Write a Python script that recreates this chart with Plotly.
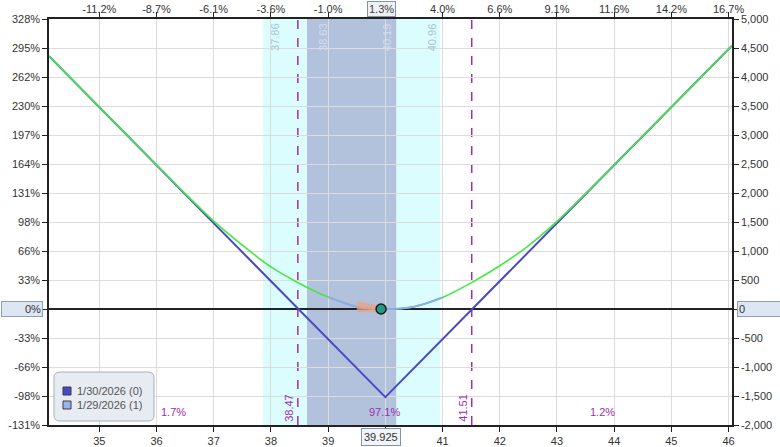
import plotly.graph_objects as go

# ---------------- data ----------------
x_range = [34.12, 46.06]
y_range = [-2000, 5000]

price_ticks = [35, 36, 37, 38, 39, 40, 41, 42, 43, 44, 45, 46]
price_tick_text = ["35", "36", "37", "38", "39", "", "41", "42", "43", "44", "45", "46"]
pct_tick_text = ["-11.2%", "-8.7%", "-6.1%", "-3.6%", "-1.0%", "", "4.0%", "6.6%",
                 "9.1%", "11.6%", "14.2%", "16.7%"]

pl_ticks = [-2000, -1500, -1000, -500, 0, 500, 1000, 1500, 2000, 2500, 3000, 3500, 4000, 4500, 5000]
pl_tick_text = ["-2,000", "-1,500", "-1,000", "-500", "", "500", "1,000", "1,500", "2,000",
                "2,500", "3,000", "3,500", "4,000", "4,500", "5,000"]
ret_tick_text = ["-131%", "-98%", "-66%", "-33%", "", "33%", "66%", "98%", "131%", "164%",
                 "197%", "230%", "262%", "295%", "328%"]

current_price = 39.925
current_price_label = "39.925"
current_pct_label = "1.3%"

# expiration P&L (1/30/2026)
exp_x = [34.12, 40.0, 46.06]
exp_y = [4360, -1520, 4540]

# T+1 P&L (1/29/2026)
t1_x = [34.12, 35.0, 36.0, 36.5, 37.0, 37.5, 38.0, 38.5, 39.0, 39.5, 40.0,
        40.5, 41.0, 41.5, 42.0, 42.5, 43.0, 43.5, 44.0, 45.0, 46.06]
t1_y = [4360, 3480, 2482, 1990, 1515, 1100, 725, 440, 205, 40, 0,
        40, 200, 450, 745, 1090, 1510, 1990, 2482, 3480, 4540]
t1_mid_lo, t1_mid_hi = 39.0, 41.0

# theta wedge near current price
wedge_x = [39.50, 39.93, 39.93, 39.50]
wedge_y = [130, 60, -60, -50]

# standard deviation bands and breakevens
sd1 = [38.63, 40.19]
sd2 = [37.86, 40.96]
breakevens = [38.47, 41.51]
breakeven_labels = ["38.47", "41.51"]
prob_x = [36.30, 39.99, 43.79]
prob_labels = ["1.7%", "97.1%", "1.2%"]

legend_names = ["1/30/2026 (0)", "1/29/2026 (1)"]

# ---------------- styling ----------------
FONT = "Liberation Sans, Arial, sans-serif"
TICK_COLOR = "#333333"
PURPLE = "#a02cb0"
EXP_COLOR = "#4a4ac4"
T1_COLOR = "#44e844"
T1_MID_COLOR = "#8eaaea"

W, H = 780, 447
L, R, T, B = 49, 48, 19, 22
PW, PH = W - L - R, H - T - B


def px_to_paper(px, py):
    return (px - L) / PW, (H - B - py) / PH


fig = go.Figure()

fig.add_trace(go.Scatter(x=exp_x, y=exp_y, mode="lines",
                         line=dict(color=EXP_COLOR, width=2), showlegend=False,
                         hoverinfo="skip"))
fig.add_trace(go.Scatter(x=t1_x, y=t1_y, mode="lines", line_shape="spline",
                         line=dict(color=T1_COLOR, width=1.6, smoothing=0.8), showlegend=False,
                         hoverinfo="skip"))
mid_x = [x for x in t1_x if t1_mid_lo <= x <= t1_mid_hi]
mid_y = [y for x, y in zip(t1_x, t1_y) if t1_mid_lo <= x <= t1_mid_hi]
fig.add_trace(go.Scatter(x=mid_x, y=mid_y, mode="lines", line_shape="spline",
                         line=dict(color=T1_MID_COLOR, width=2, smoothing=0.8), showlegend=False,
                         hoverinfo="skip"))
fig.add_trace(go.Scatter(x=wedge_x + [wedge_x[0]], y=wedge_y + [wedge_y[0]], mode="lines",
                         fill="toself", fillcolor="rgba(236,160,130,0.75)",
                         line=dict(width=0), showlegend=False, hoverinfo="skip"))
fig.add_trace(go.Scatter(x=[current_price], y=[0], mode="markers",
                         marker=dict(size=10, color="#1f9a88",
                                     line=dict(color="#1a1a1a", width=1.5)),
                         showlegend=False, hoverinfo="skip"))
fig.add_trace(go.Scatter(x=[None], y=[None], xaxis="x2", yaxis="y2", showlegend=False))

shapes = []
shapes.append(dict(type="rect", xref="x", yref="paper", x0=sd2[0], x1=sd2[1], y0=0, y1=1,
                   fillcolor="#dbfdfd", line=dict(width=0), layer="below"))
shapes.append(dict(type="rect", xref="x", yref="paper", x0=sd1[0], x1=sd1[1], y0=0, y1=1,
                   fillcolor="#b2c2dd", line=dict(width=0), layer="below"))
for b in breakevens:
    shapes.append(dict(type="line", xref="x", yref="paper", x0=b, x1=b, y0=0, y1=1,
                       line=dict(color=PURPLE, width=1.5, dash="dash"), layer="between"))

# legend box (rounded)
lx0, ly0 = px_to_paper(54, 421)
lx1, ly1 = px_to_paper(154, 372)
rx, ry = 6 / PW, 6 / PH
path = (f"M {lx0+rx},{ly0} L {lx1-rx},{ly0} Q {lx1},{ly0} {lx1},{ly0+ry} "
        f"L {lx1},{ly1-ry} Q {lx1},{ly1} {lx1-rx},{ly1} L {lx0+rx},{ly1} "
        f"Q {lx0},{ly1} {lx0},{ly1-ry} L {lx0},{ly0+ry} Q {lx0},{ly0} {lx0+rx},{ly0} Z")
shapes.append(dict(type="path", xref="paper", yref="paper", path=path,
                   fillcolor="#e7ecf3", line=dict(color="#a3aebb", width=1), layer="above"))
legend_colors = [EXP_COLOR, "#9cb2ea"]
legend_rows_py = [391, 405]
for c, py in zip(legend_colors, legend_rows_py):
    sx0, sy0 = px_to_paper(63, py + 4)
    sx1, sy1 = px_to_paper(71, py - 4)
    shapes.append(dict(type="rect", xref="paper", yref="paper", x0=sx0, x1=sx1, y0=sy0, y1=sy1,
                       fillcolor=c, line=dict(color="#3a3a4a", width=1), layer="above"))

annotations = []
for name, py in zip(legend_names, legend_rows_py):
    ax, ay = px_to_paper(75, py)
    annotations.append(dict(xref="paper", yref="paper", x=ax, y=ay, text=name,
                            showarrow=False, xanchor="left", yanchor="middle",
                            font=dict(family=FONT, size=11, color="#555555")))

band_labels = [(sd2[0], "left", 4, "#a9c6d4"), (sd1[0], "left", 8, "#d3ddec"),
               (sd1[1], "right", -1, "#d3ddec"), (sd2[1], "right", 0, "#a9c6d4")]
for v, anc, sh, col in band_labels:
    annotations.append(dict(xref="x", yref="paper", x=v, y=px_to_paper(0, 21)[1],
                            text=f"{v:.2f}", textangle=-90, showarrow=False,
                            xanchor=anc, yanchor="top", xshift=sh,
                            font=dict(family=FONT, size=11, color=col)))
for b, t in zip(breakevens, breakeven_labels):
    annotations.append(dict(xref="x", yref="paper", x=b, y=0, text=t, textangle=-90,
                            showarrow=False, xanchor="right", yanchor="bottom", xshift=-1,
                            yshift=1, font=dict(family=FONT, size=11, color=PURPLE)))
for xv, t in zip(prob_x, prob_labels):
    annotations.append(dict(xref="x", yref="paper", x=xv, y=px_to_paper(0, 412)[1], text=t,
                            showarrow=False, xanchor="center", yanchor="middle",
                            font=dict(family=FONT, size=11, color=PURPLE)))
annotations.append(dict(xref="x", yref="paper", x=current_price, y=px_to_paper(0, 437)[1],
                        text=current_price_label, showarrow=False, xanchor="center",
                        yanchor="middle", bgcolor="#f1f4f8", bordercolor="#8494a6",
                        borderwidth=1, borderpad=2,
                        font=dict(family=FONT, size=11, color="#333333")))
annotations.append(dict(xref="x", yref="paper", x=current_price, y=px_to_paper(0, 9)[1],
                        text=current_pct_label, showarrow=False, xanchor="center",
                        yanchor="middle", bgcolor="#eef2f7", bordercolor="#8494a6",
                        borderwidth=1, borderpad=1,
                        font=dict(family=FONT, size=11, color="#444444")))
zx, zy = px_to_paper(43, 309)
annotations.append(dict(xref="paper", yref="paper", x=zx, y=zy, text="0%", showarrow=False,
                        xanchor="right", yanchor="middle", width=38, align="right",
                        bgcolor="#dde7f3", bordercolor="#8ea0b4", borderwidth=1, borderpad=1,
                        font=dict(family=FONT, size=11, color="#333333")))
zx2, _ = px_to_paper(737, 309)
annotations.append(dict(xref="paper", yref="paper", x=zx2, y=zy, text="0", showarrow=False,
                        xanchor="left", yanchor="middle", width=40, align="left",
                        bgcolor="#dde7f3", bordercolor="#8ea0b4", borderwidth=1, borderpad=1,
                        font=dict(family=FONT, size=11, color="#333333")))

axis_font = dict(family=FONT, size=11, color=TICK_COLOR)
common = dict(showline=True, linecolor="#222222", linewidth=1.5, ticks="outside", ticklen=5,
              tickcolor="#222222", tickfont=axis_font, automargin=False)
fig.update_layout(
    width=W, height=H, autosize=False,
    margin=dict(l=L, r=R, t=T, b=B, pad=0, autoexpand=False),
    paper_bgcolor="white", plot_bgcolor="white",
    showlegend=False,
    shapes=shapes, annotations=annotations,
    xaxis=dict(range=x_range, tickvals=price_ticks, ticktext=price_tick_text,
               showgrid=True, gridcolor="#dcdcdc", gridwidth=1, zeroline=False, **common),
    xaxis2=dict(range=x_range, overlaying="x", side="top", anchor="y",
                tickvals=price_ticks, ticktext=pct_tick_text, showgrid=False,
                zeroline=False, ticklabelstandoff=-5, **common),
    yaxis=dict(range=y_range, tickvals=pl_ticks, ticktext=ret_tick_text,
               showgrid=True, gridcolor="#dcdcdc", gridwidth=1,
               zeroline=True, zerolinecolor="#222222", zerolinewidth=1.5, **common),
    yaxis2=dict(range=y_range, overlaying="y", side="right", anchor="x",
                tickvals=pl_ticks, ticktext=pl_tick_text, showgrid=False,
                zeroline=False, **common),
)

fig.write_html("out.html", config={"displayModeBar": False},
               post_script="document.body.style.margin='0px';")
